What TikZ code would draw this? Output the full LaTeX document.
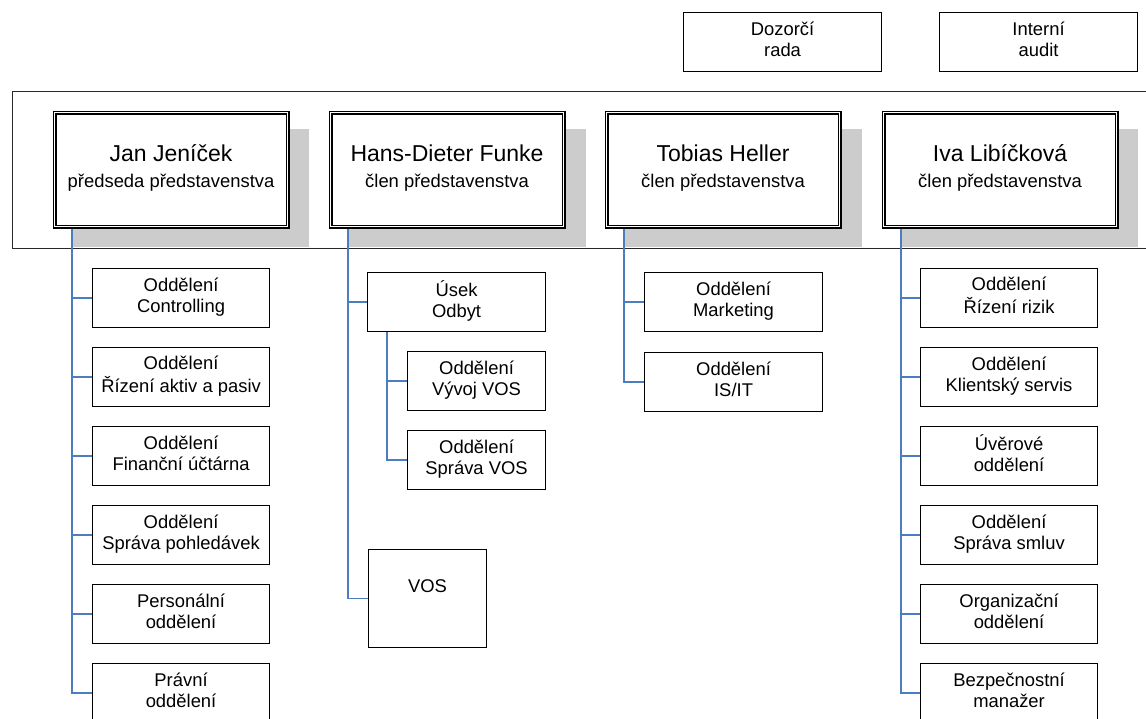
\documentclass[tikz,border=0pt]{standalone}
\usepackage{fontspec}
\setmainfont{Liberation Sans}
\usetikzlibrary{backgrounds}
\definecolor{blueline}{RGB}{74,126,193}
\definecolor{shadowgray}{RGB}{204,204,204}
\definecolor{framegray}{RGB}{40,40,40}
\begin{document}
\begin{tikzpicture}[x=1pt,y=-1pt,
  box/.style={draw=black,line width=1.1pt,fill=white,inner sep=0pt,align=center,
    font=\fontsize{18.4}{21}\selectfont,anchor=north west},
  stdbox/.style={box,minimum width=177pt,minimum height=59pt},
  exec/.style={draw=black,double=white,double distance=1.8pt,line width=1.1pt,fill=white,
    inner sep=0pt,align=center,font=\fontsize{18.4}{26}\selectfont,
    minimum width=233pt,minimum height=114pt,anchor=north west},
  conn/.style={draw=blueline,line width=1.2pt},
  shadowbox/.style={fill=shadowgray},
  framestyle/.style={draw=framegray,line width=0.9pt}]
\useasboundingbox (0,0) rectangle (1146,718);

% top boxes
\node[box,minimum width=198pt,minimum height=59pt] (dozor) at (683,12) {\strut Dozorčí\\\strut rada};
\node[box,minimum width=198pt,minimum height=59pt] (audit) at (939,12) {\strut Interní\\\strut audit};

% executives
\node[exec] (jan) at (54,112) {{\fontsize{23}{26}\selectfont\strut Jan Jeníček}\\\strut předseda představenstva};
\node[exec] (hans) at (330,112) {{\fontsize{23}{26}\selectfont\strut Hans-Dieter Funke}\\\strut člen představenstva};
\node[exec] (tobias) at (606,112) {{\fontsize{23}{26}\selectfont\strut Tobias Heller}\\\strut člen představenstva};
\node[exec] (iva) at (883,112) {{\fontsize{23}{26}\selectfont\strut Iva Libíčková}\\\strut člen představenstva};

% shadows and frame behind
\begin{scope}[on background layer]
  \fill[shadowbox] (72,129) rectangle (309,247);
  \fill[shadowbox] (348,129) rectangle (586,247);
  \fill[shadowbox] (624,129) rectangle (862,247);
  \fill[shadowbox] (901,129) rectangle (1138,247);
  \draw[framestyle] (1150,91) -- (12,91) -- (12,248) -- (1150,248);
\end{scope}

% column 1 children
\node[stdbox] (c1) at (92,268) {\strut Oddělení\\\strut Controlling};
\node[stdbox] (c2) at (92,347) {\strut Oddělení\\\strut Řízení aktiv a pasiv};
\node[stdbox] (c3) at (92,426) {\strut Oddělení\\\strut Finanční účtárna};
\node[stdbox] (c4) at (92,505) {\strut Oddělení\\\strut Správa pohledávek};
\node[stdbox] (c5) at (92,584) {\strut Personální\\\strut oddělení};
\node[stdbox] (c6) at (92,663) {\strut Právní\\\strut oddělení};

% column 2 children
\node[box,minimum width=178pt,minimum height=59pt] (usek) at (367,272) {\strut Úsek\\\strut Odbyt};
\node[box,minimum width=138pt,minimum height=59pt] (vyvoj) at (407,351) {\strut Oddělení\\\strut Vývoj VOS};
\node[box,minimum width=138pt,minimum height=59pt] (sprava) at (407,430) {\strut Oddělení\\\strut Správa VOS};
\node[box,minimum width=118pt,minimum height=98pt] (vos) at (368,549) {\strut VOS\\\strut};

% column 3 children
\node[box,minimum width=178pt,minimum height=59pt] (mkt) at (644,272) {\strut Oddělení\\\strut Marketing};
\node[box,minimum width=178pt,minimum height=59pt] (isit) at (644,352) {\strut Oddělení\\\strut IS/IT};

% column 4 children
\node[stdbox] (d1) at (920,268) {\strut Oddělení\\\strut Řízení rizik};
\node[stdbox] (d2) at (920,347) {\strut Oddělení\\\strut Klientský servis};
\node[stdbox] (d3) at (920,426) {\strut Úvěrové\\\strut oddělení};
\node[stdbox] (d4) at (920,505) {\strut Oddělení\\\strut Správa smluv};
\node[stdbox] (d5) at (920,584) {\strut Organizační\\\strut oddělení};
\node[stdbox] (d6) at (920,663) {\strut Bezpečnostní\\\strut manažer};

% connector origins
\coordinate (j0) at ([xshift=18pt,yshift=-2pt]jan.south west);
\coordinate (h0) at ([xshift=18pt,yshift=-2pt]hans.south west);
\coordinate (t0) at ([xshift=18pt,yshift=-2pt]tobias.south west);
\coordinate (i0) at ([xshift=18pt,yshift=-2pt]iva.south west);
\coordinate (u0) at ([xshift=20pt]usek.south west);

% connectors
\foreach \c in {c1,c2,c3,c4,c5,c6} \draw[conn] (j0) |- (\c.west);
\foreach \c in {usek,vos} \draw[conn] (h0) |- (\c.west);
\foreach \c in {vyvoj,sprava} \draw[conn] (u0) |- (\c.west);
\foreach \c in {mkt,isit} \draw[conn] (t0) |- (\c.west);
\foreach \c in {d1,d2,d3,d4,d5,d6} \draw[conn] (i0) |- (\c.west);
\end{tikzpicture}
\end{document}
